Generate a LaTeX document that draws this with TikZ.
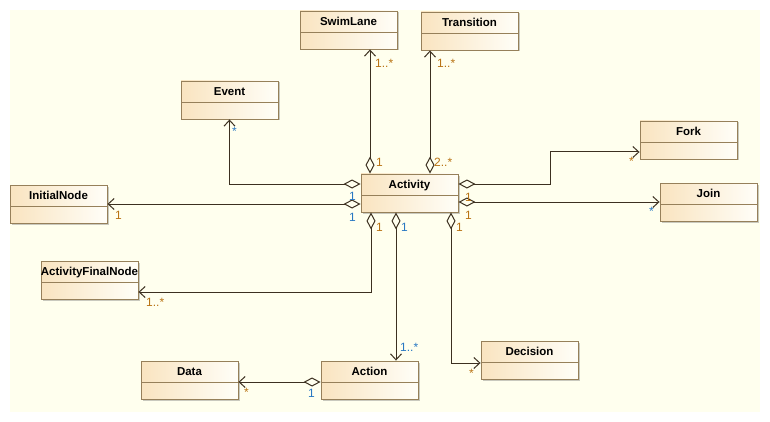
\documentclass[tikz,border=0pt]{standalone}
\usepackage{fontspec}
\setmainfont{Liberation Sans}
\usetikzlibrary{arrows.meta,shadows}
\definecolor{bg}{RGB}{255,255,238}
\definecolor{clsborder}{RGB}{150,128,90}
\definecolor{clsleft}{RGB}{249,228,192}
\definecolor{clsright}{RGB}{255,254,248}
\definecolor{conncol}{RGB}{60,48,32}
\definecolor{lblo}{RGB}{185,115,20}
\definecolor{lblb}{RGB}{40,120,195}
\tikzset{
  clsbox/.style={draw=clsborder, line width=0.9pt, left color=clsleft, right color=clsright,
    minimum width=97pt, minimum height=38pt, inner sep=0pt,
    drop shadow={shadow xshift=1.5pt, shadow yshift=-1.5pt, opacity=0.35, fill=black!60}},
  clstitle/.style={font=\fontsize{11.5}{13}\selectfont\bfseries, anchor=base, inner sep=0pt},
  clsdiv/.style={draw=clsborder, line width=0.9pt},
  assoc/.style={draw=conncol, line width=1pt,
    {Diamond[length=17pt,width=9pt,fill=bg]}-{Straight Barb[length=6pt,width=11pt]}},
  lbl/.style={font=\fontsize{12}{14}\selectfont, anchor=west, inner sep=0pt},
}
\newcommand\umlcls[4]{%
  \node[clsbox] (#1) at (#2+48.5,#3+19) {};
  \node[clstitle] (#1-t) at (#2+48.5,#3+14.5) {#4};
  \draw[clsdiv] (#2,#3+21) -- (#2+97,#3+21);
}
\begin{document}
\begin{tikzpicture}[x=1pt,y=-1pt]
\useasboundingbox (0,0) rectangle (770,422);
\fill[white] (0,0) rectangle (770,422);
\fill[bg] (10,10) rectangle (760,412);

\umlcls{swim}{300}{11}{SwimLane}
\umlcls{trans}{421}{12}{Transition}
\umlcls{event}{181}{81}{Event}
\umlcls{act}{361}{174}{Activity}
\umlcls{init}{10}{185}{InitialNode}
\umlcls{fork}{640}{121}{Fork}
\umlcls{join}{660}{183}{Join}
\umlcls{afn}{41}{261}{ActivityFinalNode}
\umlcls{data}{141}{361}{Data}
\umlcls{action}{321}{361}{Action}
\umlcls{dec}{481}{341}{Decision}

% connectors
\draw[assoc] ([xshift=-39.5pt]act.north) -- ([xshift=21.5pt]swim.south);
\draw[assoc] ([xshift=20.5pt]act.north) -- ([xshift=-39.5pt]trans.south);
\draw[assoc] ([yshift=9pt]act.west) -| (event.south);
\draw[assoc] ([yshift=-11pt]act.west) -- (init.east);
\draw[assoc] ([yshift=9pt]act.east) -- ++(92,0) |- ([yshift=-12pt]fork.west);
\draw[assoc] ([yshift=-9pt]act.east) -- (join.west);
\draw[assoc] ([xshift=-38.5pt]act.south) |- ([yshift=-12pt]afn.east);
\draw[assoc] ([xshift=-13.5pt]act.south) -- ([xshift=26.5pt]action.north);
\draw[assoc] ([xshift=41.5pt]act.south) |- ([yshift=-3pt]dec.west);
\draw[assoc] ([yshift=-2pt]action.west) -- ([yshift=-2pt]data.east);

% multiplicity labels
\node[lbl, text=lblo] (l1) at (375,63) {1..*};
\node[lbl, text=lblo] (l2) at (437,63) {1..*};
\node[lbl, text=lblb] (l3) at (232,131) {*};
\node[lbl, text=lblo] (l4) at (376,162) {1};
\node[lbl, text=lblo] (l5) at (434,162) {2..*};
\node[lbl, text=lblb] (l6) at (349,196) {1};
\node[lbl, text=lblb] (l7) at (349,217) {1};
\node[lbl, text=lblo] (l8) at (115,215) {1};
\node[lbl, text=lblo] (l9) at (465,197) {1};
\node[lbl, text=lblo] (l10) at (465,215) {1};
\node[lbl, text=lblo] (l11) at (629,161) {*};
\node[lbl, text=lblb] (l12) at (649,211) {*};
\node[lbl, text=lblo] (l13) at (146,302) {1..*};
\node[lbl, text=lblo] (l14) at (376,227) {1};
\node[lbl, text=lblb] (l15) at (401,227) {1};
\node[lbl, text=lblo] (l16) at (456,227) {1};
\node[lbl, text=lblb] (l17) at (400,347) {1..*};
\node[lbl, text=lblo] (l18) at (469,373) {*};
\node[lbl, text=lblo] (l19) at (244,392) {*};
\node[lbl, text=lblb] (l20) at (308,393) {1};
\end{tikzpicture}
\end{document}
